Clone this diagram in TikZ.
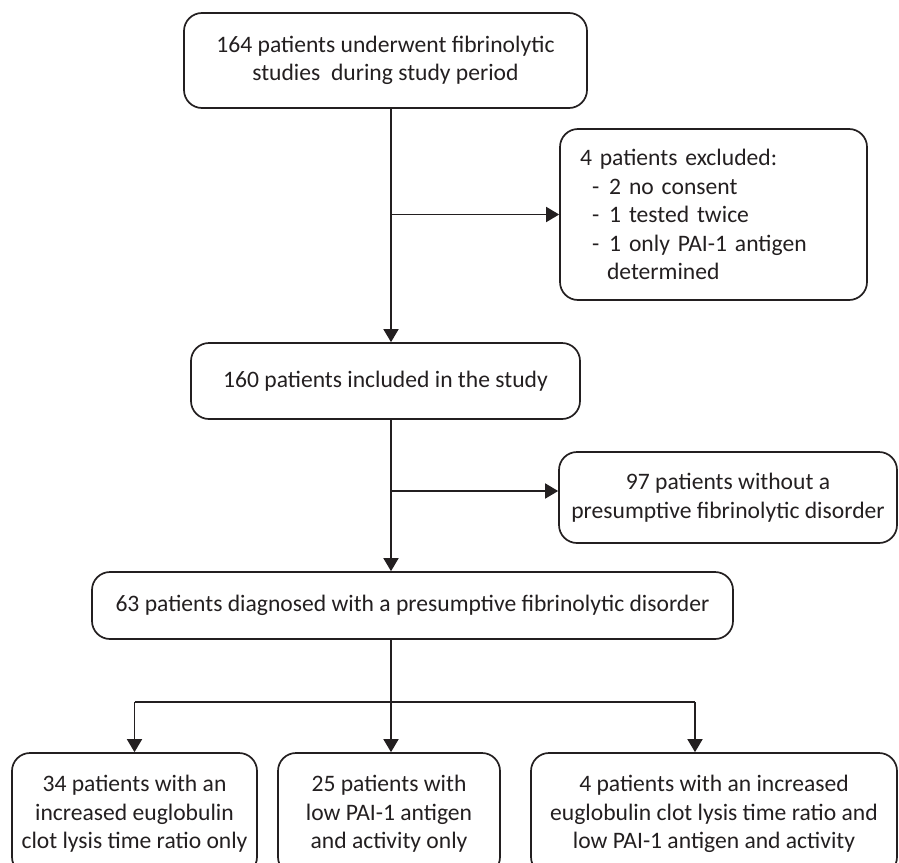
\documentclass[tikz,border=0pt]{standalone}
\usepackage{fontspec}
\setmainfont{Carlito}
\usetikzlibrary{arrows.meta}
\definecolor{ink}{HTML}{231F20}
\tikzset{
  box/.style={draw=ink,line width=1.7pt,rounded corners=18pt,align=center,inner sep=2pt,text=ink,
    font=\fontsize{23.6}{28.6}\selectfont},
  arr/.style={-{Triangle[length=13pt,width=15pt]}},
}
\begin{document}
\begin{tikzpicture}[x=1pt,y=-1pt,line width=1.7pt,draw=ink]
                \useasboundingbox (0,0) rectangle (899,862);
                \node[box,minimum width=403pt,minimum height=95pt] (top) at (385.5,60.5) {164 patients underwent fibrinolytic\\studies\ \ during study period};
                \node[box,text width=267pt,inner xsep=20pt,align=left,minimum height=171pt] (excl) at (713.5,214.5) {4 patients excluded:\\\hspace*{12pt}-\hspace{10pt}2 no consent\\\hspace*{12pt}-\hspace{10pt}1 tested twice\\\hspace*{12pt}-\hspace{10pt}1 only PAI-1 antigen\\\hspace*{27pt}determined};
                \node[box,minimum width=389pt,minimum height=76pt] (incl) at (385.5,381) {160 patients included in the study};
                \node[box,minimum width=338pt,minimum height=91pt] (none) at (728,497.5) {97 patients without a\\presumptive fibrinolytic disorder};
                \node[box,minimum width=641pt,minimum height=67pt] (diag) at (412.5,605.5) {63 patients diagnosed with a presumptive fibrinolytic disorder};
                \node[box,minimum width=245pt,minimum height=122pt] (elt) at (134.5,814) {34 patients with an\\increased euglobulin\\clot lysis time ratio only};
                \node[box,minimum width=222pt,minimum height=122pt] (pai) at (389,814) {25 patients with\\low PAI-1 antigen\\and activity only};
                \node[box,minimum width=366pt,minimum height=122pt] (both) at (714,814) {4 patients with an increased\\euglobulin clot lysis time ratio and\\low PAI-1 antigen and activity};
                % main line and side branches
                \coordinate (spine) at (391,0);
                \coordinate (fork) at (391,491);
                \coordinate (split) at (391,702);
                \coordinate (rdrop) at (695,702);
                \draw[arr] (top.south -| spine) -- (incl.north -| spine);
                \draw[arr] (spine |- excl.west) -- (excl.west);
                \draw[arr] (incl.south -| spine) -- (diag.north -| spine);
                \draw[arr] (fork) -- (fork -| none.west);
                \draw (diag.south -| spine) -- (split);
                \draw (elt.north |- split) -- (rdrop);
                \draw[arr] (elt.north |- split) -- (elt.north);
                \draw[arr] (split) -- (split |- pai.north);
                \draw[arr] (rdrop) -- (rdrop |- both.north);
            \end{tikzpicture}
\end{document}
